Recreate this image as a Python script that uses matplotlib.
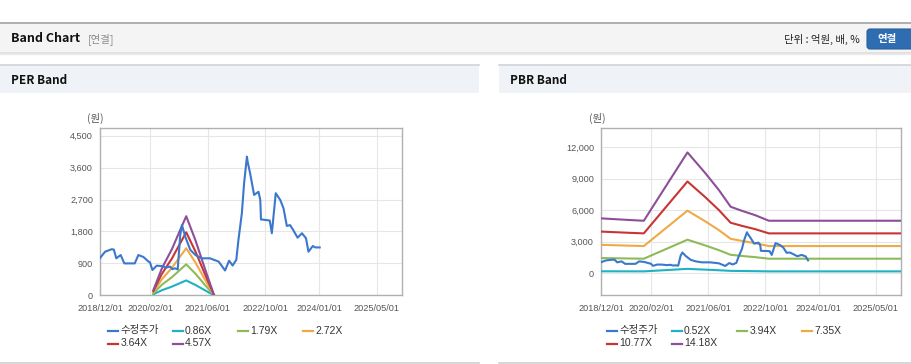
import matplotlib
matplotlib.use("Agg")
import matplotlib.pyplot as plt
import matplotlib.dates as mdates
from matplotlib.patches import Rectangle, FancyBboxPatch
from matplotlib.lines import Line2D
from matplotlib.transforms import Affine2D
from matplotlib.ticker import FuncFormatter
import pandas as pd

plt.rcParams['font.family'] = ['Liberation Sans', 'Noto Sans CJK KR', 'DejaVu Sans']

# ---------------- data ----------------
price_dates = ["2018-12-01", "2019-01-13", "2019-03-10", "2019-03-28", "2019-04-18", "2019-05-25",
               "2019-06-25", "2019-09-21", "2019-10-22", "2019-12-04", "2020-01-16", "2020-01-28",
               "2020-02-18", "2020-03-25", "2020-05-07", "2020-06-13", "2020-07-16", "2020-08-04",
               "2020-08-28", "2020-09-19", "2020-10-10", "2020-10-25", "2020-11-22", "2021-01-04",
               "2021-02-16", "2021-04-10", "2021-06-19", "2021-09-01", "2021-10-25", "2021-11-28",
               "2021-12-28", "2022-01-28", "2022-02-15", "2022-03-16", "2022-04-04", "2022-04-28",
               "2022-05-04", "2022-05-25", "2022-06-28", "2022-08-04", "2022-08-19", "2022-08-25",
               "2022-11-07", "2022-11-25", "2022-12-28", "2023-02-04", "2023-03-04", "2023-04-01",
               "2023-04-28", "2023-05-25", "2023-07-01", "2023-08-07", "2023-09-10", "2023-10-01",
               "2023-11-07", "2023-11-28", "2024-01-04"]
price_values = [1050, 1230, 1300, 1290, 1043, 1136,
                900, 900, 1136, 1080, 950, 930,
                713, 835, 825, 780, 810, 740,
                760, 730, 1690, 1980, 1650, 1280,
                1136, 1043, 1043, 950, 700, 976,
                840, 1000, 1560, 2310, 3160, 3910,
                3770, 3440, 2830, 2920, 2690, 2140,
                2110, 1750, 2880, 2690, 2450, 1955,
                1980, 1840, 1625, 1750, 1610, 1230,
                1390, 1350, 1350]
pbr_price_end = "2023-10-01"

per_multiples = [0.86, 1.79, 2.72, 3.64, 4.57]
eps_dates = ["2020-02-26", "2020-05-07", "2020-08-01", "2020-10-20", "2020-11-30",
             "2021-02-16", "2021-05-07", "2021-07-24"]
eps_values = [33, 165, 285, 420, 488, 340, 165, 0]

pbr_multiples = [0.52, 3.94, 7.35, 10.77, 14.18]
bps_dates = ["2018-12-01", "2019-08-01", "2019-12-01", "2020-12-07", "2021-05-10",
             "2021-09-01", "2021-12-10", "2022-03-15", "2022-07-05", "2022-11-01", "2025-12-01"]
bps_values = [369, 358, 353, 812, 671, 559, 447, 420, 391, 353, 353]

x_ticks = ["2018/12/01", "2020/02/01", "2021/06/01", "2022/10/01", "2024/01/01", "2025/05/01"]
per_yticks = [0, 900, 1800, 2700, 3600, 4500]
pbr_yticks = [0, 3000, 6000, 9000, 12000]

price_label = "수정주가"
colors = ["#3a78cc", "#1fb2c4", "#8fba5a", "#eeaa45", "#c93434", "#8c4f98"]

# ---------------- figure ----------------
W, H = 912, 364
fig = plt.figure(figsize=(W / 100, H / 100), dpi=100)
pix = Affine2D().scale(1, -1).translate(0, H)  # top-left pixel coords


def rect(x0, y0, x1, y1, fc, ec="none", lw=0):
    fig.add_artist(Rectangle((x0, y1), x1 - x0, y1 - y0, transform=pix, facecolor=fc,
                             edgecolor=ec, linewidth=lw))


def hline(x0, x1, y, color, lw=1.0):
    fig.add_artist(Line2D([x0, x1], [y, y], transform=pix, color=color, linewidth=lw))


# Header bar
fig.add_artist(Rectangle((0, 22), W, 30, transform=pix, facecolor="#f4f4f4", edgecolor="none"))
hline(0, W, 22.5, "#a9a9a9", 1.3)
hline(0, W, 52.5, "#dcdcdc", 1.2)
hline(0, W, 53.5, "#ececec", 1.0)
fig.text(11, 39, "Band Chart", transform=pix, fontsize=9, fontweight="bold",
         family=["Noto Sans CJK KR"], va="center", ha="left", color="#111111")
fig.text(88, 39, "[연결]", transform=pix, fontsize=7.5, family=["Noto Sans CJK KR"],
         va="center", ha="left", color="#8a8a8a")
fig.text(860, 39, "단위 : 억원, 배, %", transform=pix, fontsize=7.5, family=["Noto Sans CJK KR"],
         va="center", ha="right", color="#222222")
btn = FancyBboxPatch((867, H - 49), 52, 20, boxstyle="round,pad=0,rounding_size=3",
                     transform=None, facecolor="#2f6db3", edgecolor="#2a5f9c", linewidth=0.8)
fig.add_artist(btn)
fig.text(887, 39, "연결", transform=pix, fontsize=7.5, fontweight="bold",
         family=["Noto Sans CJK KR"], va="center", ha="center", color="white")

# Panel headers
for (x0, x1, title) in [(0, 479, "PER Band"), (499, W, "PBR Band")]:
    fig.add_artist(Rectangle((x0, 64.5), x1 - x0, 28.5, transform=pix,
                             facecolor="#eff2f7", edgecolor="none"))
    hline(x0, x1, 64.8, "#d3d7dc", 1.3)
    hline(x0, x1, 362.5, "#d0d0d0", 1.2)
    fig.text(x0 + 11, 80, title, transform=pix, fontsize=8.5, fontweight="bold",
             family=["Noto Sans CJK KR"], va="center", ha="left", color="#111111")

xmin = pd.Timestamp("2018-12-01")
xmax = pd.Timestamp("2025-12-01")
tick_pos = [pd.Timestamp(t.replace("/", "-")) for t in x_ticks]

pdates = pd.to_datetime(price_dates)
edates = pd.to_datetime(eps_dates)
bdates = pd.to_datetime(bps_dates)


def style_axes(ax, yticks, ylim):
    ax.set_xlim(xmin, xmax)
    ax.set_ylim(*ylim)
    ax.set_xticks(tick_pos)
    ax.set_xticklabels(x_ticks)
    ax.set_yticks(yticks)
    ax.yaxis.set_major_formatter(FuncFormatter(lambda v, p: f"{int(v):,}"))
    ax.grid(True, color="#e6e6e6", linewidth=0.8)
    ax.set_axisbelow(True)
    for s in ax.spines.values():
        s.set_color("#b0b0b0")
        s.set_linewidth(1.0)
    ax.tick_params(axis="both", length=0, labelsize=6.6, colors="#555555")
    ax.tick_params(axis="x", pad=6)
    ax.tick_params(axis="y", pad=5)


def add_axes(x0, x1, y0, y1):
    return fig.add_axes([x0 / W, 1 - y1 / H, (x1 - x0) / W, (y1 - y0) / H])


# PER chart
ax1 = add_axes(100, 402, 128.3, 295.3)
ax1.plot(pdates, price_values, color=colors[0], linewidth=1.5, zorder=5)
for i, m in enumerate(per_multiples):
    ax1.plot(edates, [v * m for v in eps_values], color=colors[i + 1], linewidth=1.5, zorder=4)
style_axes(ax1, per_yticks, (0, 4710))
fig.text(95, 118, "(원)", transform=pix, fontsize=7.5, family=["Noto Sans CJK KR"],
         ha="center", va="center", color="#555555")

# PBR chart
ax2 = add_axes(601, 901, 128.3, 295.3)
mask = pdates <= pd.Timestamp(pbr_price_end)
ax2.plot(pdates[mask], [v for v, k in zip(price_values, mask) if k], color=colors[0],
         linewidth=1.5, zorder=5)
for i, m in enumerate(pbr_multiples):
    ax2.plot(bdates, [v * m for v in bps_values], color=colors[i + 1], linewidth=1.5, zorder=4)
style_axes(ax2, pbr_yticks, (-2095, 13810))
fig.text(597, 118, "(원)", transform=pix, fontsize=7.5, family=["Noto Sans CJK KR"],
         ha="center", va="center", color="#555555")


# Legends
def legend(x_start, labels):
    pos = [(x_start, 330.5), (x_start + 64.5, 330.5), (x_start + 130, 330.5), (x_start + 194.5, 330.5),
           (x_start, 343.5), (x_start + 64.5, 343.5)]
    for (x, y), lab, c in zip(pos, labels, colors):
        fig.add_artist(Line2D([x, x + 10], [y, y], transform=pix, color=c, linewidth=1.6))
        fig.text(x + 12.5, y, lab, transform=pix, fontsize=7.5, va="center", ha="left",
                 color="#333333")


legend(108, [price_label] + [f"{m:.2f}X" for m in per_multiples])
legend(607, [price_label] + [f"{m:.2f}X" for m in pbr_multiples])

fig.savefig("out.png", dpi=100)
